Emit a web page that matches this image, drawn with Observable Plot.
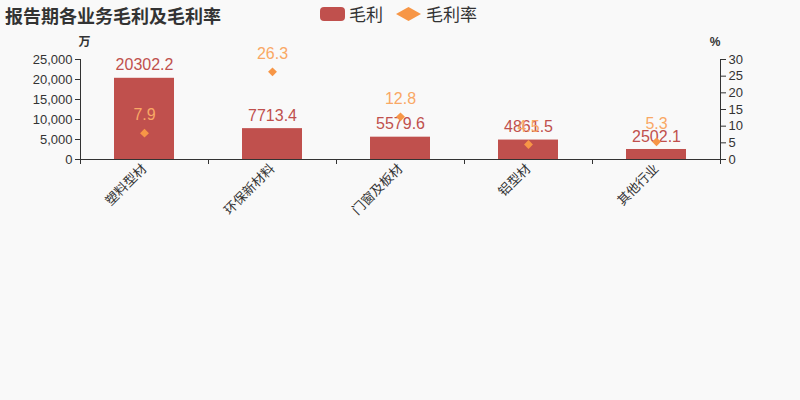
<!DOCTYPE html>
<html><head><meta charset="utf-8">
<script src="https://cdn.jsdelivr.net/npm/d3@7"></script>
<script src="https://cdn.jsdelivr.net/npm/@observablehq/plot@0.6"></script>
<style>
body{margin:0;background:#f9f9f9;font-family:"Liberation Sans","Noto Sans CJK SC",sans-serif;}
#header{position:relative;height:30px;width:800px;}
#title{position:absolute;left:5px;top:2px;font-size:18px;font-weight:bold;color:#333;font-family:"Noto Sans CJK SC",sans-serif;}
.lg{position:absolute;top:3px;font-size:17px;color:#333;font-family:"Noto Sans CJK SC",sans-serif;line-height:22px;}
#sw1{position:absolute;left:320px;top:7px;width:25px;height:14px;border-radius:4px;background:#c0504d;}
#sw2{position:absolute;left:396px;top:7px;width:25px;height:14px;background:#f79646;clip-path:polygon(50% 0,100% 50%,50% 100%,0 50%);}
#chart svg{display:block;}
</style></head>
<body>
<div id="header">
  <div id="title">报告期各业务毛利及毛利率</div>
  <div id="sw1"></div><div class="lg" style="left:349px">毛利</div>
  <div id="sw2"></div><div class="lg" style="left:426px">毛利率</div>
</div>
<div id="chart"></div>
<script>
const categories = ["塑料型材", "环保新材料", "门窗及板材", "铝型材", "其他行业"];
const profits = [20302.2, 7713.4, 5579.6, 4861.5, 2502.1];
const rates = [7.9, 26.3, 12.8, 4.5, 5.3];
const leftTicks = [0, 5000, 10000, 15000, 20000, 25000];
const rightTicks = [0, 5, 10, 15, 20, 25, 30];
const yMax = 25000, rMax = 30, k = yMax / rMax;
const data = categories.map((c, i) => ({category: c, profit: profits[i], rate: rates[i]}));
const font = '"Liberation Sans","Noto Sans CJK SC",sans-serif';
const half = 64;
const chart = Plot.plot({
  width: 800, height: 370,
  marginTop: 29, marginBottom: 241, marginLeft: 80, marginRight: 80,
  style: {background: "transparent", fontSize: "13px", fontFamily: font, color: "#333", overflow: "visible"},
  x: {domain: categories, paddingInner: 0.53, paddingOuter: 0.265, axis: null},
  y: {domain: [0, yMax], axis: null},
  marks: [
    Plot.barY(data, {x: "category", y: "profit", fill: "#c0504d"}),
    Plot.ruleY([0], {stroke: "#333"}),
    Plot.ruleX([categories[0]], {dx: -half, stroke: "#333"}),
    Plot.ruleX([categories[categories.length - 1]], {dx: half, stroke: "#333"}),
    Plot.ruleX(categories, {dx: -half, stroke: "#333", insetTop: 100, insetBottom: -5}),
    Plot.ruleX([categories[categories.length - 1]], {dx: half, stroke: "#333", insetTop: 100, insetBottom: -5}),
    Plot.axisY({anchor: "left", ticks: leftTicks, tickFormat: d3.format(","), tickSize: 5, tickPadding: 3, label: null, color: "#333"}),
    Plot.axisY({anchor: "right", ticks: rightTicks.map(v => v * k), tickFormat: d => String(Math.round(d / k)), tickSize: 5, tickPadding: 3, label: null, color: "#333"}),
    Plot.axisX({tickRotate: -45, tickSize: 0, tickPadding: 7, label: null, color: "#333", fontFamily: '"Noto Sans CJK SC",sans-serif'}),
    Plot.text(data, {x: "category", y: "profit", text: d => d.profit.toFixed(1), dy: -13, fill: "#c0504d", fontSize: 16}),
    Plot.dot(data, {x: "category", y: d => d.rate * k, symbol: "diamond2", r: 4, fill: "#f79646"}),
    Plot.text(data, {x: "category", y: d => d.rate * k, text: d => d.rate.toFixed(1), dy: -18, fill: "#f9a865", fontSize: 16}),
    Plot.text(["万"], {frameAnchor: "top-left", dx: -2, dy: -22, fontSize: 12, fontWeight: "bold", fill: "#333", fontFamily: '"Noto Sans CJK SC",sans-serif'}),
    Plot.text(["%"], {frameAnchor: "top-right", dx: 0, dy: -22, fontSize: 12, fontWeight: "bold", fill: "#333"})
  ]
});
document.getElementById("chart").appendChild(chart);
</script>
</body></html>
